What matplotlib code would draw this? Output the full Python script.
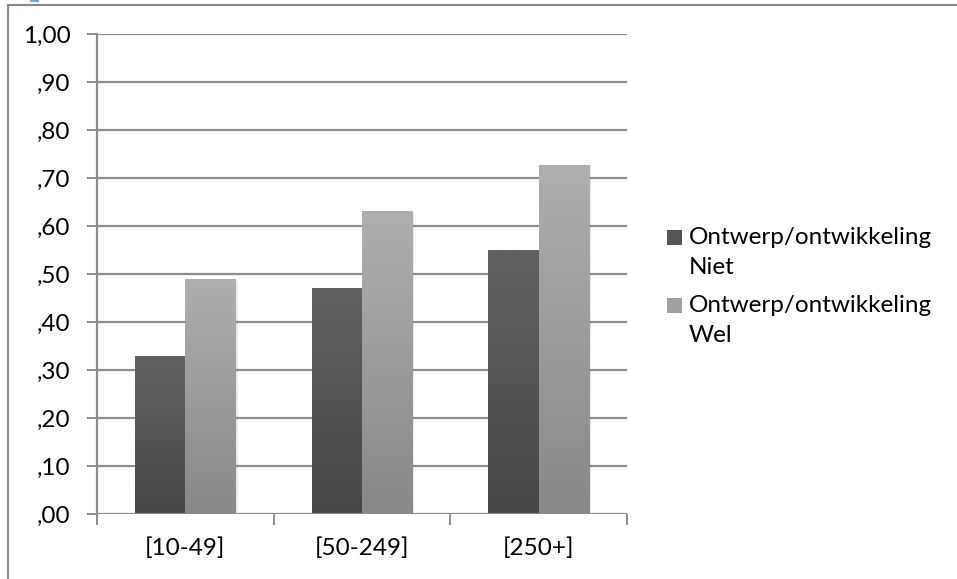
import numpy as np
import matplotlib.pyplot as plt
from matplotlib.patches import Rectangle
from matplotlib.lines import Line2D

# categories and values
categories = ['[10-49]', '[50-249]', '[250+]']
niet_vals = [0.33, 0.47, 0.55]
wel_vals = [0.49, 0.632, 0.728]
series_names = ['Ontwerp/ontwikkeling\nNiet', 'Ontwerp/ontwikkeling\nWel']
ytick_vals = [0.0, 0.1, 0.2, 0.3, 0.4, 0.5, 0.6, 0.7, 0.8, 0.9, 1.0]
ytick_labels = [',00', ',10', ',20', ',30', ',40', ',50', ',60', ',70', ',80', ',90', '1,00']

plt.rcParams['font.family'] = ['Lato', 'DejaVu Sans']
FS = 17.5

W, H = 957, 579
fig = plt.figure(figsize=(W / 100, H / 100), dpi=100, facecolor='white')

# outer frame lines (top and left edge)
fig.add_artist(Line2D([8 / W, 8 / W], [0, 1 - 5 / H], transform=fig.transFigure,
                      color='#8a8a8a', lw=1.5))
fig.add_artist(Line2D([8 / W, 1], [1 - 5 / H, 1 - 5 / H], transform=fig.transFigure,
                      color='#8a8a8a', lw=1.5))
fig.add_artist(Line2D([31 / W, 38 / W], [1 - 1 / H, 1 - 1 / H], transform=fig.transFigure,
                      color='#6fa8dc', lw=1.5))

ax = fig.add_axes([97 / W, 1 - 514 / H, (627 - 97) / W, (514 - 34) / H])

for y in ytick_vals[1:]:
    ax.axhline(y, color='#8c8c8c', lw=1.6, zorder=1)

bar_w = 0.285
x = np.arange(len(categories)) + 0.5

def grad_bar(xc, h, top, bottom):
    grad = np.linspace(0, 1, 256).reshape(-1, 1)
    c_top = np.array(top) / 255.0
    c_bot = np.array(bottom) / 255.0
    img = c_top[None, None, :] * (1 - grad[:, :, None]) + c_bot[None, None, :] * grad[:, :, None]
    x0 = xc - bar_w / 2
    # soft shadow
    ax.add_patch(Rectangle((x0 + 0.012, 0), bar_w, h - 0.004, facecolor='#000000',
                           alpha=0.08, lw=0, zorder=2))
    im = ax.imshow(img, extent=[x0, x0 + bar_w, 0, h], aspect='auto', zorder=3,
                   interpolation='bilinear')
    clip = Rectangle((x0, 0), bar_w, h, transform=ax.transData, facecolor='none', lw=0)
    ax.add_patch(clip)
    im.set_clip_path(clip)

for i in range(len(categories)):
    grad_bar(x[i] - bar_w / 2, niet_vals[i], (98, 98, 98), (70, 70, 70))
    grad_bar(x[i] + bar_w / 2, wel_vals[i], (175, 175, 175), (136, 136, 136))

ax.set_xlim(0, 3)
ax.set_ylim(0, 1.0)

for s in ['top', 'right', 'bottom']:
    ax.spines[s].set_visible(False)
ax.spines['left'].set_color('#8c8c8c')
ax.spines['left'].set_linewidth(1.6)
ax.axhline(0, color='#8c8c8c', lw=1.6, zorder=4)

ax.set_yticks(ytick_vals)
ax.set_yticklabels(ytick_labels)
ax.tick_params(axis='y', length=7, width=1.4, color='#8c8c8c', labelsize=FS, pad=12)

# category ticks at boundaries, labels centered
ax.set_xticks([0, 1, 2, 3])
ax.set_xticklabels([])
ax.tick_params(axis='x', length=8, width=1.4, color='#8c8c8c')
for xi, lab in zip(x, categories):
    ax.text(xi, -0.071, lab, ha='center', va='center', fontsize=FS)

# legend
legend_cols = [(84, 84, 84), (160, 160, 160)]
ys = [237, 305]
for name, col, yy in zip(series_names, legend_cols, ys):
    fig.add_artist(Rectangle((667 / W, 1 - (yy + 8) / H), 15 / W, 15 / H,
                             transform=fig.transFigure,
                             facecolor=np.array(col) / 255.0, lw=0))
    first, second = name.split('\n')
    fig.text(689 / W, 1 - yy / H, first, ha='left', va='center', fontsize=FS)
    fig.text(689 / W, 1 - (yy + 31) / H, second, ha='left', va='center', fontsize=FS)

fig.savefig('out.png', dpi=100, facecolor='white')
